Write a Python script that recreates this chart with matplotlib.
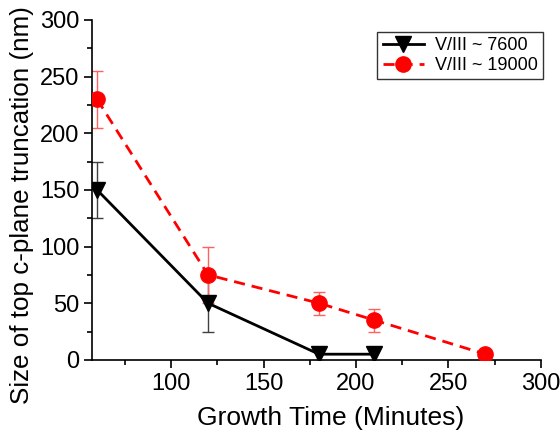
import matplotlib
matplotlib.use("Agg")
import matplotlib.pyplot as plt
from matplotlib.ticker import MultipleLocator

plt.rcParams['font.family'] = ['Liberation Sans', 'DejaVu Sans']

time_a = [60, 120, 180, 210]
size_a = [150, 50, 5, 5]
err_a = [25, 25, 6, 6]

time_b = [60, 120, 180, 210, 270]
size_b = [230, 75, 50, 35, 5]
err_b = [25, 25, 10, 10, 0]

label_a = "V/III ~ 7600"
label_b = "V/III ~ 19000"

fig = plt.figure(figsize=(5.6, 4.32), dpi=100)
ax = fig.add_axes([0.165, 0.167, 0.801, 0.787])

ax.errorbar(time_a, size_a, yerr=err_a, fmt='none', ecolor='#404040',
            elinewidth=1, capsize=4, capthick=1, zorder=2)
ax.errorbar(time_b, size_b, yerr=err_b, fmt='none', ecolor='#ff6060',
            elinewidth=1, capsize=4, capthick=1, zorder=2)
ax.plot(time_a, size_a, color='black', lw=2, marker='v', markersize=11,
        label=label_a, zorder=3)
ax.plot(time_b, size_b, color='red', lw=2, ls=(0, (4, 2.5)), marker='o',
        markersize=11, label=label_b, zorder=3)

ax.set_xlim(57.5, 300)
ax.set_ylim(0, 300)
ax.xaxis.set_major_locator(MultipleLocator(50))
ax.xaxis.set_minor_locator(MultipleLocator(25))
ax.yaxis.set_major_locator(MultipleLocator(50))
ax.yaxis.set_minor_locator(MultipleLocator(25))
ax.set_xticks([100, 150, 200, 250, 300])
ax.spines['top'].set_visible(False)
ax.spines['right'].set_visible(False)
for s in ['left', 'bottom']:
    ax.spines[s].set_linewidth(1.2)
ax.tick_params(which='major', direction='out', length=6, width=1.2, labelsize=17)
ax.tick_params(which='minor', direction='out', length=3.5, width=1.2)

ax.set_xlabel("Growth Time (Minutes)", fontsize=19)
ax.set_ylabel("Size of top c-plane truncation (nm)", fontsize=18.7)
ax.xaxis.set_label_coords(0.53, -0.135)
ax.yaxis.set_label_coords(-0.13, 0.455)

leg = ax.legend(loc='upper right', bbox_to_anchor=(1.005, 0.965), fontsize=13,
                frameon=True, fancybox=False, edgecolor='black',
                handlelength=2.3, borderpad=0.3, labelspacing=0.15,
                handletextpad=0.6, borderaxespad=0)
leg.get_frame().set_linewidth(1.0)

fig.savefig("out.png", dpi=100)
